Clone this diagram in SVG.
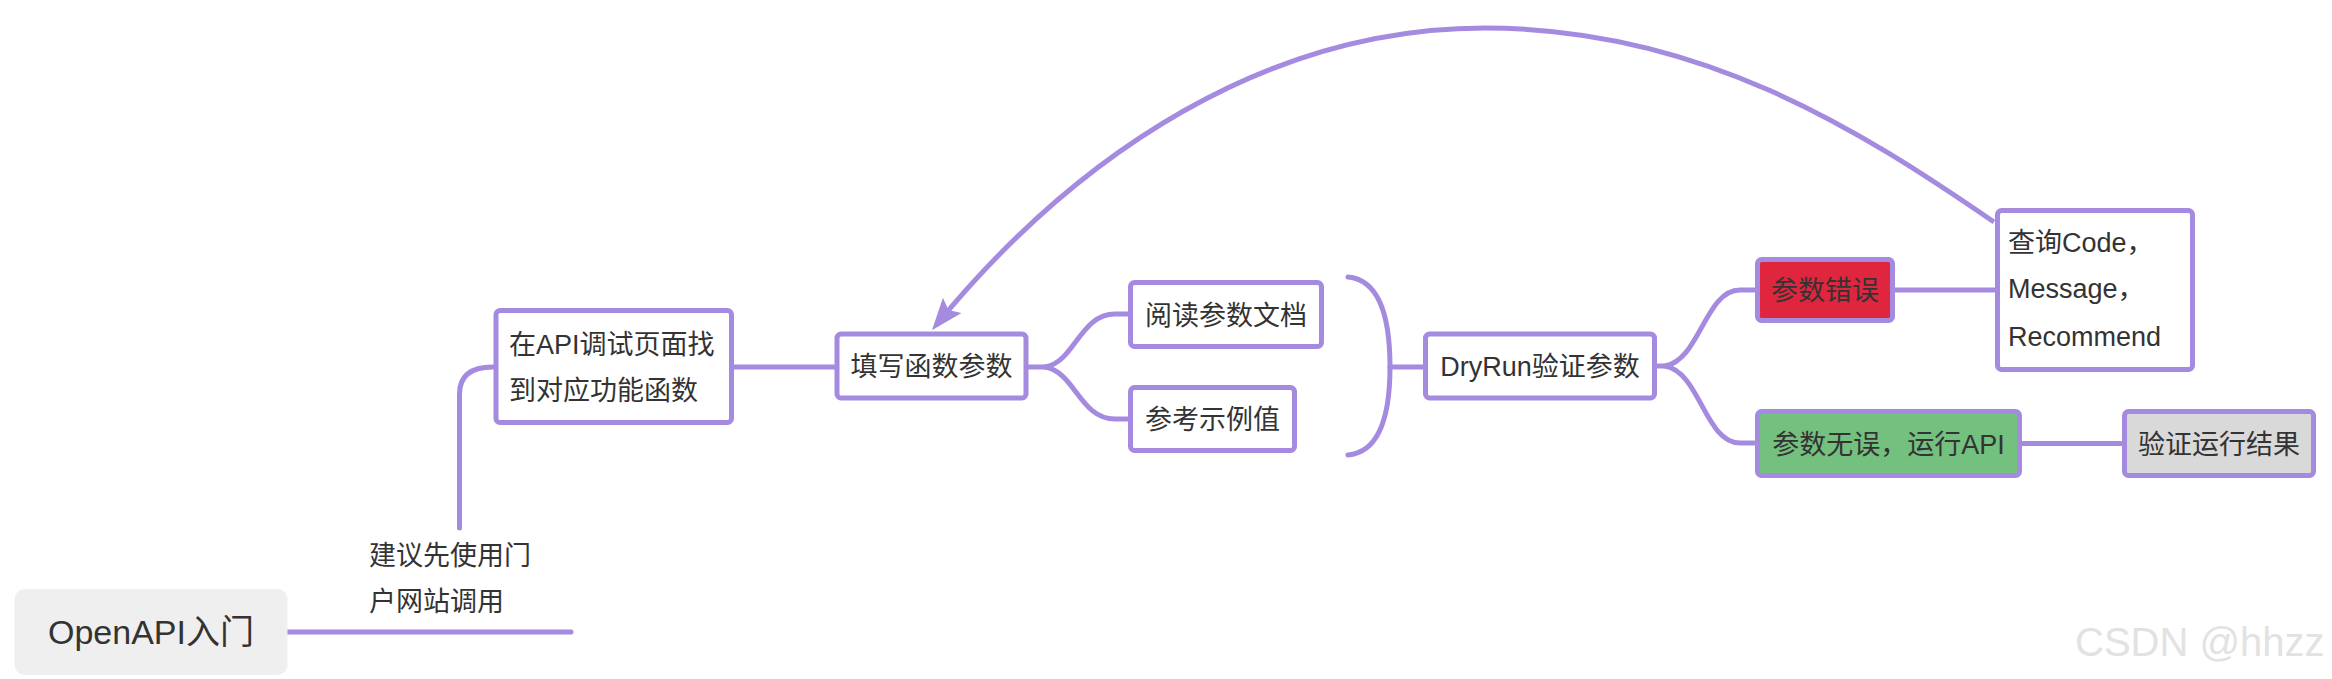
<svg xmlns="http://www.w3.org/2000/svg" width="2332" height="679" viewBox="0 0 2332 679">
  <style>
    .box { fill: #ffffff; stroke: #a48be0; stroke-width: 5; }
    .conn { fill: none; stroke: #a48be0; stroke-width: 5; stroke-linecap: round; stroke-linejoin: round; }
    .t { font-family: "Liberation Sans", "Noto Sans CJK SC", sans-serif; font-size: 27px; fill: #333333; }
    .c { text-anchor: middle; }
  </style>
  <defs>
    <marker id="arrow" markerUnits="userSpaceOnUse" markerWidth="36" markerHeight="30" refX="24" refY="14" orient="auto">
      <path d="M0,2 L32,14 L0,26 L6,14 Z" fill="#a48be0"/>
    </marker>
  </defs>

  <g id="connectors">
    <path class="conn" d="M287,632 H571"/>
    <path class="conn" d="M459.5,528 V394 Q459.5,367 493,367"/>
    <path class="conn" d="M731,367 H837"/>
    <path class="conn" d="M1026,367 H1045 C1075,362 1080,314 1115,314 H1130"/>
    <path class="conn" d="M1045,367 C1075,372 1080,419 1115,419 H1130"/>
    <path class="conn" d="M1348,277 C1380,280 1390,320 1390,367 C1390,414 1380,452 1348,455"/>
    <path class="conn" d="M1390,367 H1426"/>
    <path class="conn" d="M1655,366 H1665 C1700,360 1705,290 1740,290 H1757"/>
    <path class="conn" d="M1665,366 C1700,372 1705,443 1740,443 H1757"/>
    <path class="conn" d="M1893,290 H1997"/>
    <path class="conn" d="M2020,443.5 H2124"/>
    <path class="conn" style="stroke-linecap:butt" d="M1994,222 C1860,130 1700,28 1485,28 C1270,28 1080,150 937,324" marker-end="url(#arrow)"/>
  </g>

  <g id="node-openapi">
    <rect x="14.5" y="589" width="273" height="86" rx="10" fill="#efefef"/>
    <text class="t c" x="151" y="644" style="font-size:34px">OpenAPI入门</text>
  </g>

  <g id="label-portal">
    <text class="t" x="369" y="565">建议先使用门</text>
    <text class="t" x="369" y="611">户网站调用</text>
  </g>

  <g id="node-find">
    <rect class="box" x="496" y="310.5" width="235.5" height="112" rx="4"/>
    <text class="t" x="509" y="353.5">在API调试页面找</text>
    <text class="t" x="509" y="399.5">到对应功能函数</text>
  </g>

  <g id="node-fill">
    <rect class="box" x="837" y="334" width="189" height="64" rx="4"/>
    <text class="t c" x="931.5" y="376">填写函数参数</text>
  </g>

  <g id="node-read">
    <rect class="box" x="1130.5" y="282.5" width="191" height="64" rx="4"/>
    <text class="t c" x="1226" y="324.5">阅读参数文档</text>
  </g>

  <g id="node-example">
    <rect class="box" x="1130.5" y="387.5" width="164" height="63" rx="4"/>
    <text class="t c" x="1212.5" y="429">参考示例值</text>
  </g>

  <g id="node-dryrun">
    <rect class="box" x="1425.5" y="334" width="229" height="64" rx="4"/>
    <text class="t c" x="1540" y="376">DryRun验证参数</text>
  </g>

  <g id="node-error">
    <rect class="box" x="1757.5" y="259.5" width="135" height="61" rx="4" style="fill:#e0253f"/>
    <text class="t c" x="1825" y="300">参数错误</text>
  </g>

  <g id="node-query">
    <rect class="box" x="1997.5" y="210.5" width="195" height="159" rx="4"/>
    <text class="t" x="2008" y="252">查询Code，</text>
    <text class="t" x="2008" y="298">Message，</text>
    <text class="t" x="2008" y="346">Recommend</text>
  </g>

  <g id="node-ok">
    <rect class="box" x="1757.5" y="411.5" width="262" height="64" rx="4" style="fill:#73c07f"/>
    <text class="t c" x="1888.5" y="453.5">参数无误，运行API</text>
  </g>

  <g id="node-verify">
    <rect class="box" x="2124.5" y="411.5" width="189" height="64" rx="4" style="fill:#d9d9d9"/>
    <text class="t c" x="2219" y="453.5">验证运行结果</text>
  </g>

  <g id="watermark">
    <text x="2075" y="656" style="font-family:'Liberation Sans', sans-serif; font-size:40px; fill:#e2e2e2">CSDN @hhzz</text>
  </g>
</svg>
